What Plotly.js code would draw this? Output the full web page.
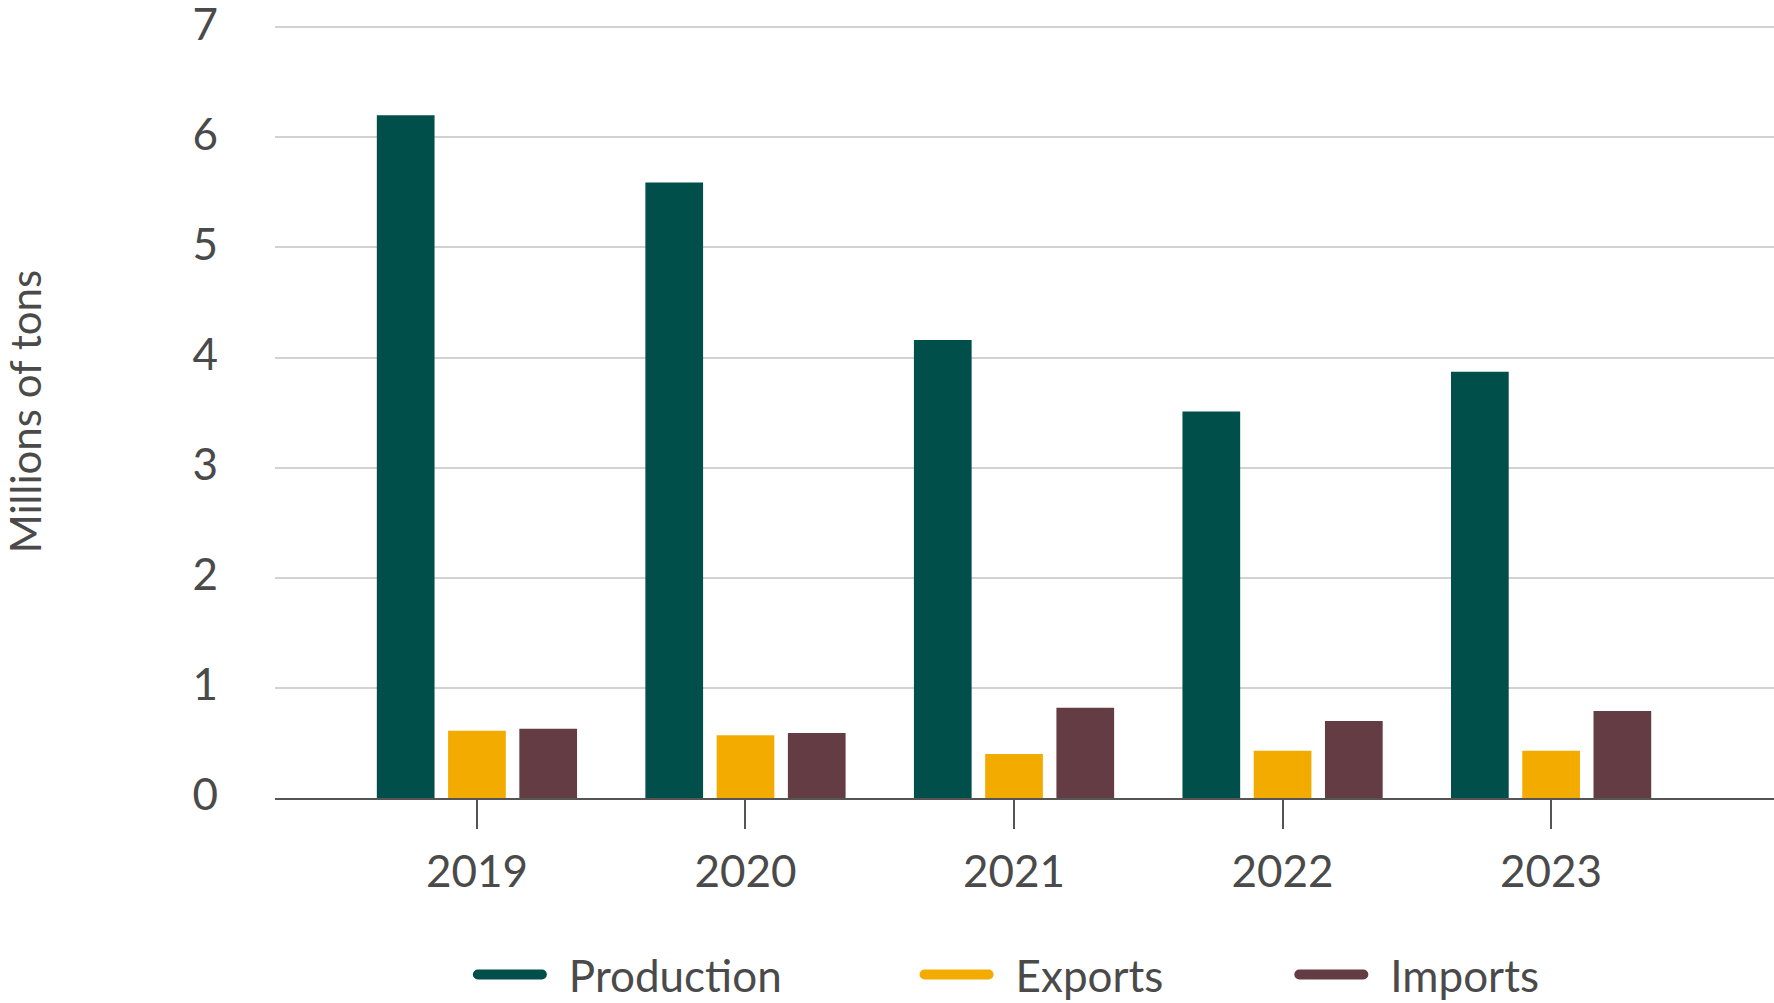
<!DOCTYPE html>
<html>
<head>
<meta charset="utf-8">
<script src="https://cdn.plot.ly/plotly-3.0.1.min.js"></script>
<style>
  html, body { margin: 0; padding: 0; background: #fff; }
  #chart { width: 1774px; height: 1003px; }
</style>
</head>
<body>
<div id="chart"></div>
<script>
  const years = ['2019', '2020', '2021', '2022', '2023'];
  const production = [6.20, 5.59, 4.16, 3.51, 3.87];
  const exports = [0.61, 0.57, 0.40, 0.43, 0.43];
  const imports = [0.63, 0.59, 0.82, 0.70, 0.79];
  const yTicks = [0, 1, 2, 3, 4, 5, 6, 7];

  const seriesNames = ['Production', 'Exports', 'Imports'];
  const seriesColors = ['#014f4a', '#f4ab00', '#633c44'];
  const seriesValues = [production, exports, imports];
  const legendIds = ['legend', 'legend2', 'legend3'];
  const legendX = [0.128, 0.426, 0.676];

  const textColor = '#4a4a4a';
  const font = 'Lato, "Open Sans", sans-serif';

  const traces = [];
  seriesValues.forEach((vals, i) => {
    traces.push({
      type: 'bar',
      x: years,
      y: vals,
      name: seriesNames[i],
      legendgroup: seriesNames[i],
      showlegend: false,
      marker: {color: seriesColors[i], line: {width: 0}},
      hoverinfo: 'x+y+name'
    });
  });
  // line-style legend entries, one legend each so they can be placed like the original
  seriesNames.forEach((name, i) => {
    traces.push({
      type: 'scatter',
      mode: 'lines',
      x: [null],
      y: [null],
      name: name,
      legend: legendIds[i],
      legendgroup: name,
      line: {color: seriesColors[i], width: 13},
      hoverinfo: 'skip'
    });
  });

  const legendBase = {
    orientation: 'h',
    xanchor: 'left',
    yref: 'container',
    y: 0.028,
    yanchor: 'middle',
    font: {family: font, size: 44, color: textColor},
    itemwidth: 92,
    borderwidth: 0,
    bgcolor: 'rgba(0,0,0,0)'
  };

  const layout = {
    width: 1774,
    height: 1003,
    margin: {l: 275, r: 0, t: 25, b: 205, pad: 0},
    paper_bgcolor: '#fff',
    plot_bgcolor: '#fff',
    font: {family: font, size: 44, color: textColor},
    barmode: 'group',
    bargap: 0.204,
    bargroupgap: 0.19,
    showlegend: true,
    xaxis: {
      type: 'category',
      range: [-0.752, 4.83],
      showgrid: false,
      zeroline: false,
      showline: true,
      linecolor: '#555',
      linewidth: 2,
      ticks: 'outside',
      ticklen: 29,
      tickwidth: 2,
      tickcolor: '#555',
      tickfont: {family: font, size: 44, color: textColor},
      ticklabelstandoff: 5,
      fixedrange: true
    },
    yaxis: {
      range: [0, 7.02],
      tickvals: yTicks,
      showgrid: true,
      gridcolor: '#d2d2d2',
      gridwidth: 2,
      zeroline: false,
      showline: false,
      ticks: '',
      tickfont: {family: font, size: 44, color: textColor},
      ticklabelstandoff: 56,
      ticklabelshift: -3,
      ticklabeloverflow: 'allow',
      title: {
        text: 'Millions of tons',
        font: {family: font, size: 42, color: textColor},
        standoff: 155
      },
      automargin: false,
      fixedrange: true
    }
  };
  legendIds.forEach((id, i) => {
    layout[id] = Object.assign({}, legendBase, {x: legendX[i]});
  });

  Plotly.newPlot('chart', traces, layout, {displayModeBar: false, staticPlot: true}).then(gd => {
    // rounded, fixed-length legend strokes
    gd.querySelectorAll('.legendlines path').forEach(p => {
      p.setAttribute('d', 'M11,0h64');
      p.style.strokeLinecap = 'round';
    });
  });
</script>
</body>
</html>
